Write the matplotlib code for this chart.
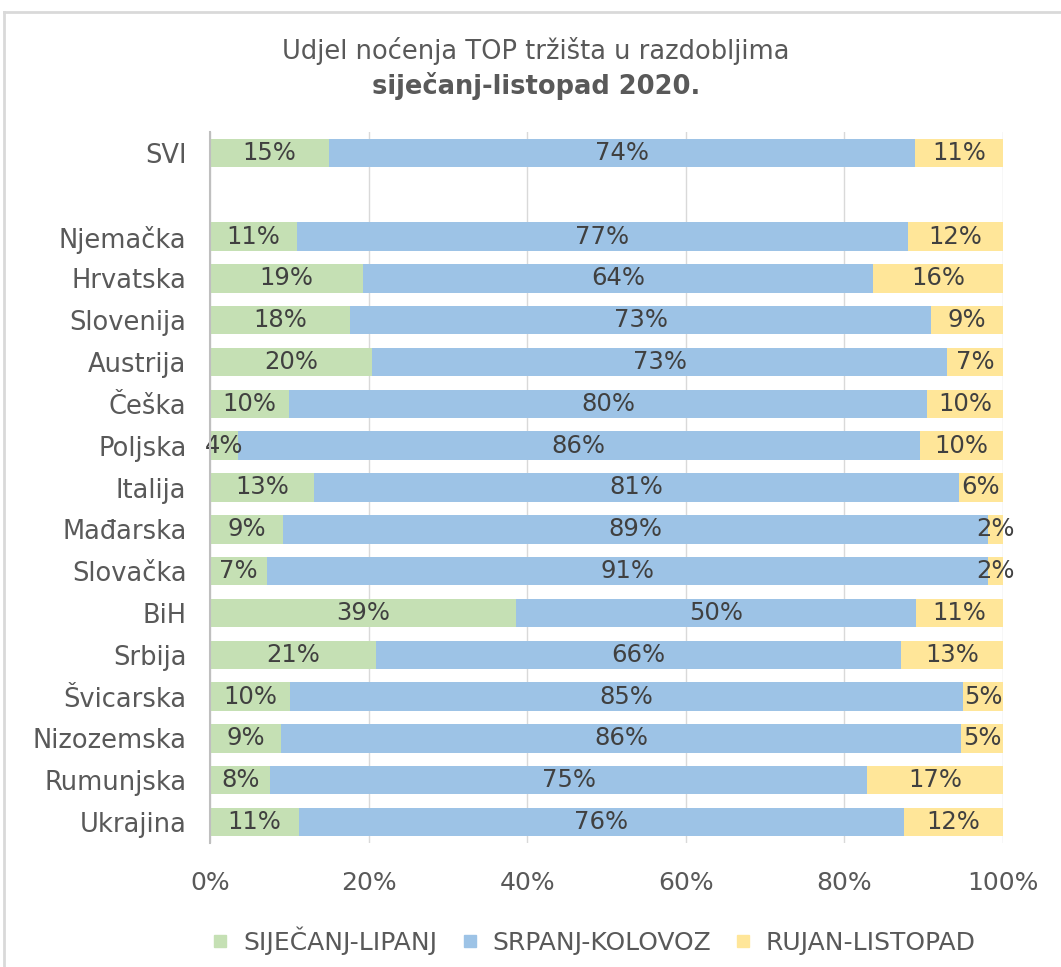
import numpy as np
import matplotlib.pyplot as plt
from matplotlib.lines import Line2D

countries = ['SVI', '', 'Njemačka', 'Hrvatska', 'Slovenija', 'Austrija', 'Češka', 'Poljska',
             'Italija', 'Mađarska', 'Slovačka', 'BiH', 'Srbija', 'Švicarska',
             'Nizozemska', 'Rumunjska', 'Ukrajina']
sij_lip = [15.0, 0, 11.0, 19.3, 17.7, 20.4, 10.0, 3.5, 13.1, 9.2, 7.2, 38.6, 20.9, 10.1, 9.0, 7.6, 11.2]
srp_kol = [73.9, 0, 77.0, 64.3, 73.2, 72.6, 80.4, 86.0, 81.3, 88.9, 90.9, 50.4, 66.2, 84.9, 85.7, 75.3, 76.3]
ruj_lis = [11.1, 0, 12.0, 16.4, 9.1, 7.0, 9.6, 10.5, 5.6, 1.9, 1.9, 11.0, 12.9, 5.0, 5.3, 17.1, 12.5]
series_names = ['SIJEČANJ-LIPANJ', 'SRPANJ-KOLOVOZ', 'RUJAN-LISTOPAD']
colors = ['#C5E0B4', '#9DC3E6', '#FFE699']
ticks = [0, 20, 40, 60, 80, 100]

txt = '#595959'
fig = plt.figure(figsize=(10.61, 9.67), dpi=100)
ax = fig.add_axes([210 / 1061, 1 - 843 / 967, 793 / 1061, 711 / 967])

y = np.arange(len(countries))
data = np.array([sij_lip, srp_kol, ruj_lis]) / 100.0
left = np.zeros(len(countries))
for vals, col, name in zip(data, colors, series_names):
    ax.barh(y, vals, left=left, height=0.68, color=col, label=name, zorder=2)
    for yi, (l, v) in enumerate(zip(left, vals)):
        if v > 0:
            ax.text(l + v / 2, yi, f'{round(v * 100)}%', ha='center', va='center',
                    fontsize=17.5, color='#404040', zorder=3)
    left += vals

ax.set_xlim(0, 1)
ax.set_ylim(len(countries) - 0.5, -0.5)
ax.set_yticks(y)
ax.set_yticklabels(countries, fontsize=18.5, color=txt)
ax.set_xticks(np.array(ticks) / 100)
ax.set_xticklabels([f'{t}%' for t in ticks], fontsize=18, color=txt)
ax.tick_params(axis='y', length=0, pad=17)
ax.tick_params(axis='x', length=0, pad=20)
ax.grid(axis='x', color='#D9D9D9', linewidth=1, zorder=0)
for s in ['top', 'right', 'bottom']:
    ax.spines[s].set_visible(False)
ax.spines['left'].set_color('#BFBFBF')
ax.spines['left'].set_linewidth(1.5)
ax.spines['left'].set_zorder(4)

fig.text(0.505, 0.947, 'Udjel noćenja TOP tržišta u razdobljima', ha='center', va='center',
         fontsize=18.5, color=txt)
fig.text(0.505, 0.911, 'siječanj-listopad 2020.', ha='center', va='center',
         fontsize=18.5, color=txt, fontweight='bold')

handles = [Line2D([], [], marker='s', linestyle='none', markersize=9, color=c) for c in colors]
fig.legend(handles, series_names, loc='center', bbox_to_anchor=(0.552, 0.027), ncol=3,
           frameon=False, fontsize=18, labelcolor=txt, handletextpad=-0.1, columnspacing=0.3)

# outer chart border
fig.add_artist(Line2D([4 / 1061, 4 / 1061], [0, 1 - 12 / 967], color='#D9D9D9', linewidth=2))
fig.add_artist(Line2D([4 / 1061, 1], [1 - 12 / 967, 1 - 12 / 967], color='#D9D9D9', linewidth=2))

fig.savefig('out.png', dpi=100)
